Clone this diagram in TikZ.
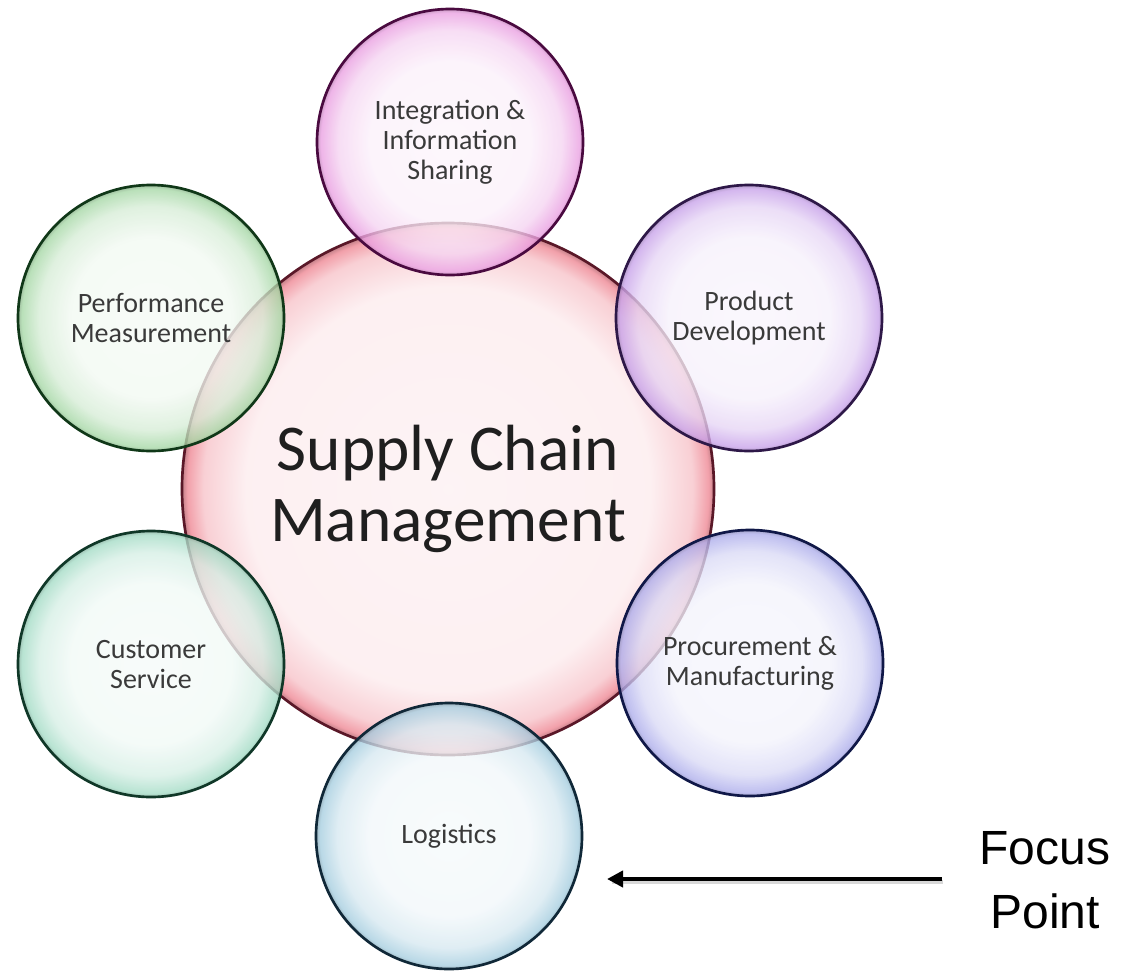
\documentclass[tikz,border=0pt]{standalone}
\usepackage{fontspec}
\setmainfont{Carlito}
\newfontfamily\arialf{Liberation Sans}
\usetikzlibrary{arrows.meta}
\definecolor{textgray}{HTML}{3A3A3A}
\definecolor{rimc}{HTML}{F2A0AA}
\definecolor{bScm}{HTML}{5A1828}\definecolor{rScm}{HTML}{F2A0AA}
\definecolor{bInt}{HTML}{4A0A40}\definecolor{rInt}{HTML}{EAA0E2}
\definecolor{bPro}{HTML}{2E1848}\definecolor{rPro}{HTML}{C8A2EA}
\definecolor{bPer}{HTML}{103818}\definecolor{rPer}{HTML}{A6D8A6}
\definecolor{bCus}{HTML}{103828}\definecolor{rCus}{HTML}{A4DCC6}
\definecolor{bPrc}{HTML}{101848}\definecolor{rPrc}{HTML}{AEAEEC}
\definecolor{bLog}{HTML}{102838}\definecolor{rLog}{HTML}{A6CEE0}
\pgfdeclareradialshading[rimc]{glass}{\pgfpoint{0bp}{0bp}}{%
  color(0bp)=(rimc!10!white); color(15bp)=(rimc!14!white);
  color(21bp)=(rimc!45!white); color(24.3bp)=(rimc);
  color(25bp)=(rimc!80!black); color(50bp)=(rimc!80!black)}
\pgfdeclareradialshading[rimc]{hubglass}{\pgfpoint{0bp}{0bp}}{%
  color(0bp)=(rimc!12!white); color(19bp)=(rimc!16!white);
  color(23bp)=(rimc!50!white); color(24.5bp)=(rimc);
  color(25bp)=(rimc!80!black); color(50bp)=(rimc!80!black)}
\tikzset{
  rimcol/.code={\colorlet{rimc}{#1}},
  bubble/.style={circle, minimum size=199.5pt, inner sep=0pt, shading=glass,
    line width=2pt, fill opacity=0.78, draw opacity=1, text opacity=1,
    align=center, text=textgray, font=\fontsize{21}{22.5}\selectfont},
  hub/.style={circle, minimum size=399pt, inner sep=0pt, shading=hubglass,
    line width=2pt, align=center, text=black!88,
    font=\fontsize{49}{53}\selectfont},
  focusarrow/.style={line width=3pt, -{Triangle[length=12pt,width=12pt]}}
}
\begin{document}
\begin{tikzpicture}[x=0.75pt,y=-0.75pt]
\useasboundingbox (0,0) rectangle (1124,971);
\fill[white] (0,0) rectangle (1124,971);
\node[hub, rimcol=rScm, draw=bScm] (scm) at (448,489) {Supply Chain\\Management};
\node[bubble, rimcol=rInt, draw=bInt] (int) at (450,142) {Integration \&\\Information\\Sharing};
\node[bubble, rimcol=rPro, draw=bPro] (pd) at (749,318) {Product\\Development};
\node[bubble, rimcol=rPer, draw=bPer] (pm) at (151,318) {Performance\\Measurement};
\node[bubble, rimcol=rCus, draw=bCus] (cs) at (151,664) {Customer\\Service};
\node[bubble, rimcol=rPrc, draw=bPrc] (pmf) at (750,663) {Procurement \&\\Manufacturing};
\node[bubble, rimcol=rLog, draw=bLog] (log) at (449,836) {Logistics};
\node[font=\arialf\fontsize{36}{48}\selectfont, align=center, text=black] (fp) at (1045,880) {Focus\\Point};
\coordinate (as) at (942,879);
\coordinate (ae) at (607,879);
\coordinate (ass) at (943,882);
\coordinate (aes) at (612,882);
\draw[line width=3.5pt, black!25, opacity=0.6] (ass) -- (aes);
\draw[focusarrow] (as) -- (ae);
\end{tikzpicture}
\end{document}
